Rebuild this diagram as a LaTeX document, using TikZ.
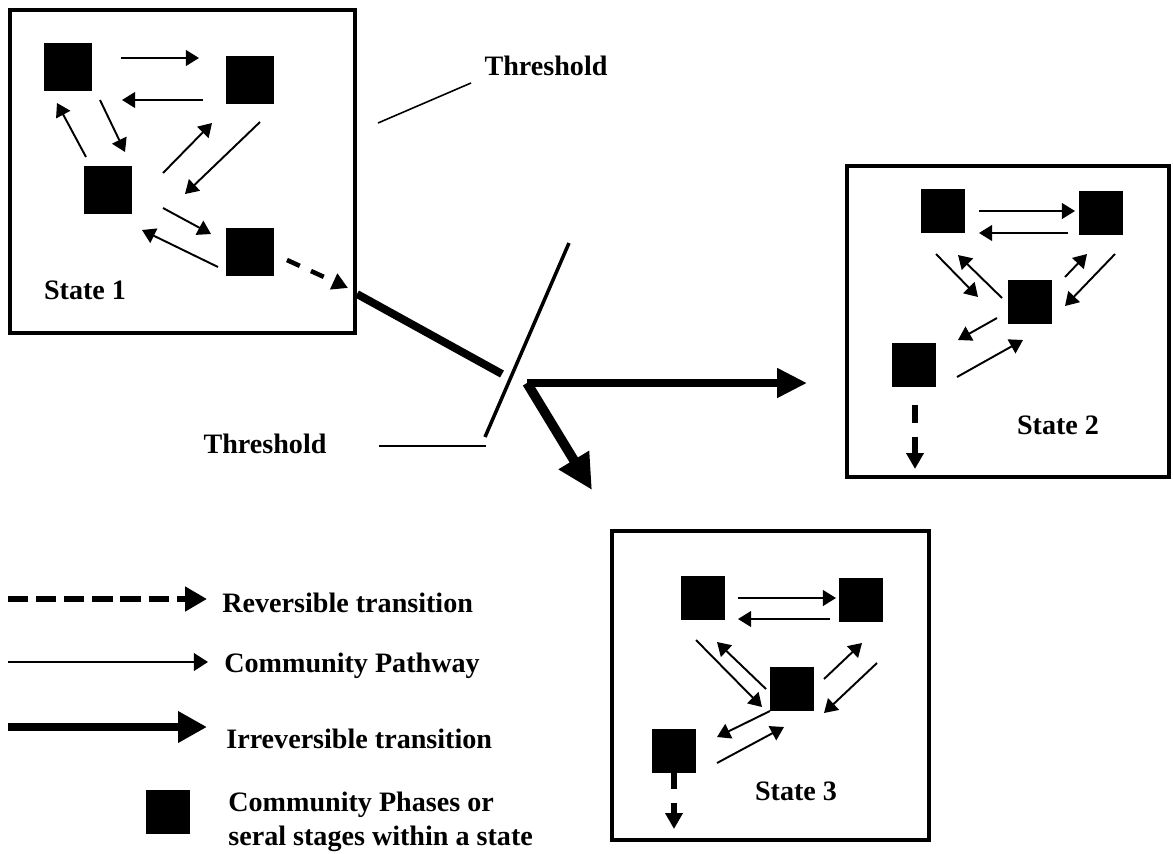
\documentclass[tikz,border=0pt]{standalone}
\usepackage{fontspec}
\setmainfont{Liberation Serif}
\usetikzlibrary{arrows.meta}
\begin{document}
\begin{tikzpicture}[x=0.02cm,y=-0.02cm,
  statebox/.style={draw,line width=2.8pt},
  phase/.style={fill=black,inner sep=0pt,minimum size=25pt},
  bigphase/.style={phase,minimum size=27pt},
  pathway/.style={line width=1.1pt,-{Triangle[length=7.5pt,width=9pt]}},
  revtrans/.style={line width=2.6pt,dash pattern=on 8pt off 7pt,-{Triangle[length=9pt,width=9.5pt]}},
  lbl/.style={font=\bfseries\fontsize{16}{19}\selectfont,inner sep=0pt},
  thinline/.style={line width=0.9pt}]
\useasboundingbox (0,0) rectangle (1173,853);

% ---------- State 1 ----------
\draw[statebox] (10,10) rectangle (355,333);
\node[bigphase] (a1) at (68,67) {};
\node[bigphase] (b1) at (250,80) {};
\node[bigphase] (c1) at (108,190) {};
\node[bigphase] (d1) at (250,252) {};
\draw[pathway] (121,58) -- (199,58);
\draw[pathway] (203,100) -- (122,100);
\draw[pathway] (86,157) -- (57,103);
\draw[pathway] (100,100) -- (125,152);
\draw[pathway] (163,173) -- (212,123);
\draw[pathway] (260,122) -- (185,194);
\draw[pathway] (163,208) -- (211,234);
\draw[pathway] (218,267) -- (142,230);
\draw[revtrans] (287,260) -- (348,288);
\node[lbl] (st1) at (85,290) {State 1};

% ---------- thresholds and transitions ----------
\coordinate (s1out) at (357,294);
\coordinate (thend) at (502,374);
\coordinate (corner) at (527,383);
\coordinate (toS2) at (807,383);
\coordinate (toS3) at (592,490);
\coordinate (slashtop) at (569,243);
\coordinate (slashbot) at (485,437);
\draw[line width=4.5pt] (s1out) -- (thend);
\draw[line width=2pt] (slashtop) -- (slashbot);
\draw[line width=4pt,-{Triangle[length=17pt,width=16pt]}] (corner) -- (toS2);
\draw[line width=5.5pt,-{Triangle[length=20pt,width=19pt]}] (corner) -- (toS3);

\node[lbl] (th1) at (546,66) {Threshold};
\coordinate (th1a) at (378,123);
\coordinate (th1b) at (471,83);
\draw[thinline] (th1a) -- (th1b);
\node[lbl] (th2) at (265,444) {Threshold};
\coordinate (th2a) at (379,446);
\coordinate (th2b) at (486,446);
\draw[thinline] (th2a) -- (th2b);

% ---------- State 2 ----------
\draw[statebox] (847,166) rectangle (1169,477);
\node[phase] (p2) at (943,211) {};
\node[phase] (q2) at (1101,213) {};
\node[phase] (r2) at (1030,302) {};
\node[phase] (s2) at (914,365) {};
\draw[pathway] (979,211) -- (1075,211);
\draw[pathway] (1068,233) -- (979,233);
\draw[pathway] (936,254) -- (978,297);
\draw[pathway] (1002,298) -- (958,255);
\draw[pathway] (1065,277) -- (1087,254);
\draw[pathway] (1115,254) -- (1065,306);
\draw[pathway] (997,318) -- (958,340);
\draw[pathway] (957,377) -- (1023,340);
\draw[revtrans,line width=3pt,dash pattern=on 10pt off 8pt] (915,405) -- (915,469);
\node[lbl] (st2) at (1058,425) {State 2};

% ---------- State 3 ----------
\draw[statebox] (612,531) rectangle (929,840);
\node[phase] (p3) at (703,598) {};
\node[phase] (q3) at (861,600) {};
\node[phase] (r3) at (792,689) {};
\node[phase] (s3) at (674,751) {};
\draw[pathway] (738,598) -- (836,598);
\draw[pathway] (830,619) -- (738,619);
\draw[pathway] (696,640) -- (762,707);
\draw[pathway] (766,689) -- (717,642);
\draw[pathway] (824,679) -- (862,643);
\draw[pathway] (877,663) -- (824,713);
\draw[pathway] (770,711) -- (717,737);
\draw[pathway] (717,763) -- (784,727);
\draw[revtrans,line width=3pt,dash pattern=on 9pt off 8pt] (s3.south) -- (674,829);
\node[lbl] (st3) at (796,791) {State 3};

% ---------- Legend ----------
\coordinate (l1a) at (8,599);  \coordinate (l1b) at (207,599);
\coordinate (l2a) at (8,662);  \coordinate (l2b) at (208,662);
\coordinate (l3a) at (8,727);  \coordinate (l3b) at (207,727);
\draw[line width=3.4pt,dash pattern=on 11.5pt off 4.5pt,-{Triangle[length=12.5pt,width=13.5pt]}] (l1a) -- (l1b);
\draw[line width=1.1pt,-{Triangle[length=8pt,width=10pt]}] (l2a) -- (l2b);
\draw[line width=4.5pt,-{Triangle[length=16.5pt,width=17pt]}] (l3a) -- (l3b);
\node[phase,minimum size=25pt] (lsq) at (168,812) {};
\node[lbl,anchor=west] (t1) at (222,603) {Reversible transition};
\node[lbl,anchor=west] (t2) at (224,666) {Community Pathway};
\node[lbl,anchor=west] (t3) at (226,739) {Irreversible transition};
\node[lbl,anchor=west,align=left] (t4) at (228,822) {Community Phases or\\seral stages within a state};
\end{tikzpicture}
\end{document}
